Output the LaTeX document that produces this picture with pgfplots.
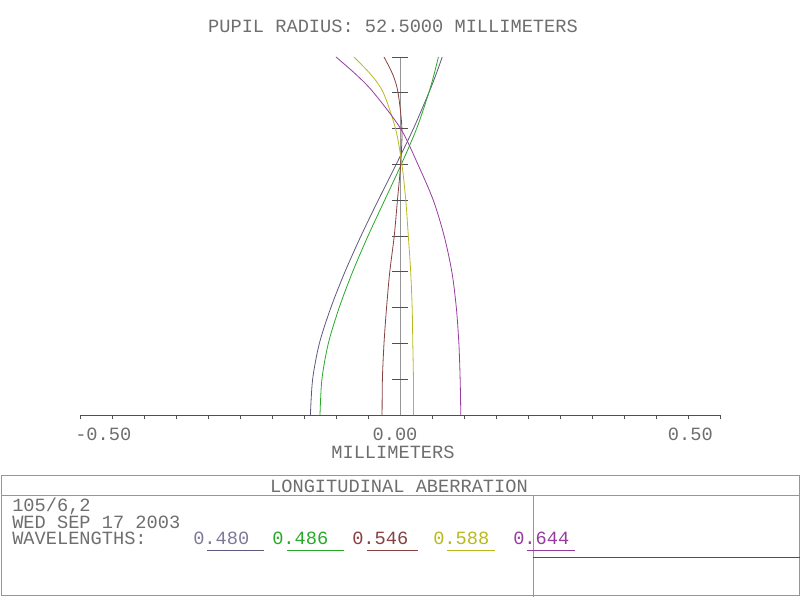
\documentclass[border=0pt]{standalone}
\usepackage{fontspec}
\setmainfont{Liberation Mono}
\usepackage{pgfplots}
\pgfplotsset{compat=1.18}

\definecolor{txt}{RGB}{110,110,110}
\definecolor{frame}{RGB}{150,150,150}
\definecolor{axdark}{RGB}{80,80,80}
\definecolor{axlight}{RGB}{150,150,150}
\definecolor{wlA}{RGB}{95,88,125}   % 0.480
\definecolor{wlB}{RGB}{40,170,40}   % 0.486
\definecolor{wlC}{RGB}{135,65,65}   % 0.546
\definecolor{wlD}{RGB}{185,185,30}  % 0.588
\definecolor{wlE}{RGB}{150,60,160}  % 0.644

\begin{document}
\fontsize{14}{16}\selectfont
\begin{tikzpicture}
\path[use as bounding box] (0,0) rectangle (600pt,447.75pt);

\begin{axis}[
    at={(60pt,136.5pt)}, anchor=south west,
    scale only axis, width=480pt, height=268.5pt,
    xmin=-0.5, xmax=0.5, ymin=0, ymax=1,
    axis lines=middle,
    axis line style={-},
    x axis line style={draw=axdark, line width=0.6pt},
    y axis line style={draw=axlight, line width=0.6pt},
    xtick={-0.5,-0.45,...,0.51}, xticklabels={},
    ytick=\empty,
    extra y ticks={0.1,0.2,...,1.01}, extra y tick labels={},
    extra y tick style={major tick length=12pt, tick align=center,
      ytick style={draw=axdark, line width=0.6pt}},
    tick align=center,
    major tick length=3pt,
    xtick style={draw=axdark, line width=0.6pt, yshift=-1.5pt},
    clip=false,
  ]
  % 0.480
  \addplot[wlA, line width=0.6pt, smooth] table {
    -0.140 0.00
    -0.1365 0.10
    -0.126 0.20
    -0.108 0.30
    -0.086 0.40
    -0.061 0.50
    -0.034 0.60
    -0.006 0.70
     0.021 0.80
     0.045 0.90
     0.056 0.95
     0.066 1.00
  };
  % 0.486
  \addplot[wlB, line width=0.6pt, smooth] table {
    -0.125 0.00
    -0.122 0.10
    -0.112 0.20
    -0.095 0.30
    -0.074 0.40
    -0.050 0.50
    -0.024 0.60
     0.002 0.70
     0.026 0.80
     0.045 0.90
     0.053 0.95
     0.060 1.00
  };
  % 0.546
  \addplot[wlC, line width=0.6pt, smooth] table {
    -0.028 0.00
    -0.0275 0.10
    -0.025 0.20
    -0.021 0.30
    -0.016 0.40
    -0.009 0.50
    -0.004 0.60
     0.001 0.70
     0.003 0.80
    -0.003 0.90
    -0.011 0.95
    -0.025 1.00
  };
  % 0.588
  \addplot[wlD, line width=0.6pt, smooth] table {
     0.021 0.00
     0.021 0.10
     0.020 0.20
     0.019 0.30
     0.0167 0.40
     0.013 0.50
     0.009 0.60
     0.003 0.70
    -0.007 0.80
    -0.026 0.90
    -0.045 0.95
    -0.072 1.00
  };
  % 0.644
  \addplot[wlE, line width=0.6pt, smooth] table {
     0.095 0.00
     0.094 0.10
     0.092 0.20
     0.088 0.30
     0.081 0.40
     0.069 0.50
     0.052 0.60
     0.028 0.70
     0.001 0.80
    -0.041 0.90
    -0.068 0.95
    -0.100 1.00
  };
\end{axis}

% frame and text, in pixel coordinates of the reference (y downwards)
\begin{scope}[x=0.75pt, y=-0.75pt, shift={(0pt,447.75pt)}]
  \node[txt, anchor=base, inner sep=0pt] at (393,33) {PUPIL RADIUS: 52.5000 MILLIMETERS};
  \node[txt, anchor=base west, inner sep=0pt] at (75,440) {-0.50};
  \node[txt, anchor=base, inner sep=0pt] at (395,440) {0.00};
  \node[txt, anchor=base east, inner sep=0pt] at (713,440) {0.50};
  \node[txt, anchor=base, inner sep=0pt] at (393,458) {MILLIMETERS};

  \draw[frame, line width=0.7pt] (1,475) -- (799,475);
  \draw[frame, line width=0.7pt] (1,495.5) -- (799,495.5);
  \draw[frame, line width=0.7pt] (1,475) -- (1,595) -- (799,595) -- (799,475);
  \draw[frame, line width=0.7pt] (533,495.5) -- (533,597);
  \draw[axdark, line width=0.7pt] (533,557) -- (800,557);

  \node[txt, anchor=base, inner sep=0pt] at (399,492) {LONGITUDINAL ABERRATION};
  \node[txt, anchor=base west, inner sep=0pt, align=left,
        font=\fontsize{14}{11.6}\selectfont] at (12,544)
        {105/6,2\\WED SEP 17 2003\\WAVELENGTHS:};

  \node[wlA!80!white, anchor=base west, inner sep=0pt] at (193,544) {0.480};
  \node[wlB, anchor=base west, inner sep=0pt] at (272,544) {0.486};
  \node[wlC, anchor=base west, inner sep=0pt] at (352,544) {0.546};
  \node[wlD, anchor=base west, inner sep=0pt] at (433,544) {0.588};
  \node[wlE, anchor=base west, inner sep=0pt] at (513,544) {0.644};

  \draw[wlA, line width=0.7pt] (207,550) -- (264,550);
  \draw[wlB, line width=0.7pt] (287,550) -- (344,550);
  \draw[wlC, line width=0.7pt] (367,550) -- (418,550);
  \draw[wlD, line width=0.7pt] (447,550) -- (495,550);
  \draw[wlE, line width=0.7pt] (527,550) -- (575,550);
\end{scope}
\end{tikzpicture}
\end{document}
